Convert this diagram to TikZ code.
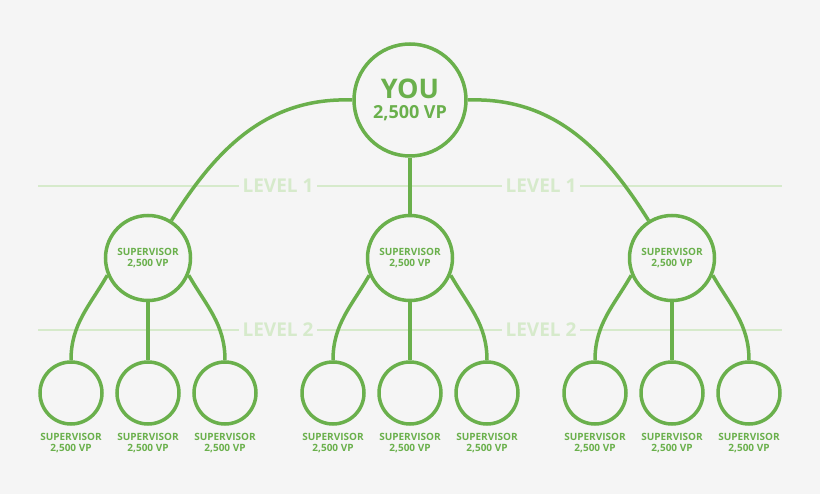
\documentclass[tikz,border=0pt]{standalone}
\usepackage{fontspec}
\setmainfont{Open Sans}
\usepackage{tikz}
\definecolor{leaf}{HTML}{6AB04C}
\definecolor{pale}{HTML}{D6EACB}
\definecolor{paper}{HTML}{F5F5F5}
\tikzset{
  member/.style={circle,draw=leaf,line width=3.5pt,fill=paper,inner sep=0pt},
  link/.style={draw=leaf,line width=3.5pt},
  tag/.style={text=leaf,font=\bfseries\fontsize{10}{11}\selectfont,align=center},
  level/.style={fill=paper,text=pale,font=\bfseries\fontsize{19}{20}\selectfont,inner sep=4pt}
}
\begin{document}
\begin{tikzpicture}[x=1pt,y=-1pt]
                    \fill[paper] (0,0) rectangle (820,494);
                    \draw[pale,line width=1.5pt] (38,186) -- (782,186);
                    \draw[pale,line width=1.5pt] (38,330) -- (782,330);

                    \node[member,minimum size=112pt,text=leaf,align=center,font=\bfseries] (you) at (410,100)
                        {\fontsize{27}{30}\selectfont YOU\\[5pt]\fontsize{18}{22}\selectfont 2,500 VP};

                    \foreach \m/\x in {a/148,b/410,c/672}{
                        \node[member,minimum size=85pt,tag] (\m) at (\x,258) {SUPERVISOR\\2,500 VP};
                        \foreach \k/\dx in {1/-77,2/0,3/77}{
                            \node[member,minimum size=62pt] (\m\k) at ({\x+\dx},393) {};
                            \node[tag] at ({\x+\dx},443) {SUPERVISOR\\2,500 VP};
                        }
                        \draw[link] (\m.203) to[out=240,in=90] (\m1.north);
                        \draw[link] (\m) -- (\m2);
                        \draw[link] (\m.337) to[out=300,in=90] (\m3.north);
                    }

                    \draw[link] (you.180) to[out=178,in=58] (a.58);
                    \draw[link] (you) -- (b);
                    \draw[link] (you.0) to[out=2,in=122] (c.122);

                    \node[level] at (278,186) {LEVEL 1};
                    \node[level] at (541,186) {LEVEL 1};
                    \node[level] at (278,330) {LEVEL 2};
                    \node[level] at (541,330) {LEVEL 2};
                \end{tikzpicture}
\end{document}
